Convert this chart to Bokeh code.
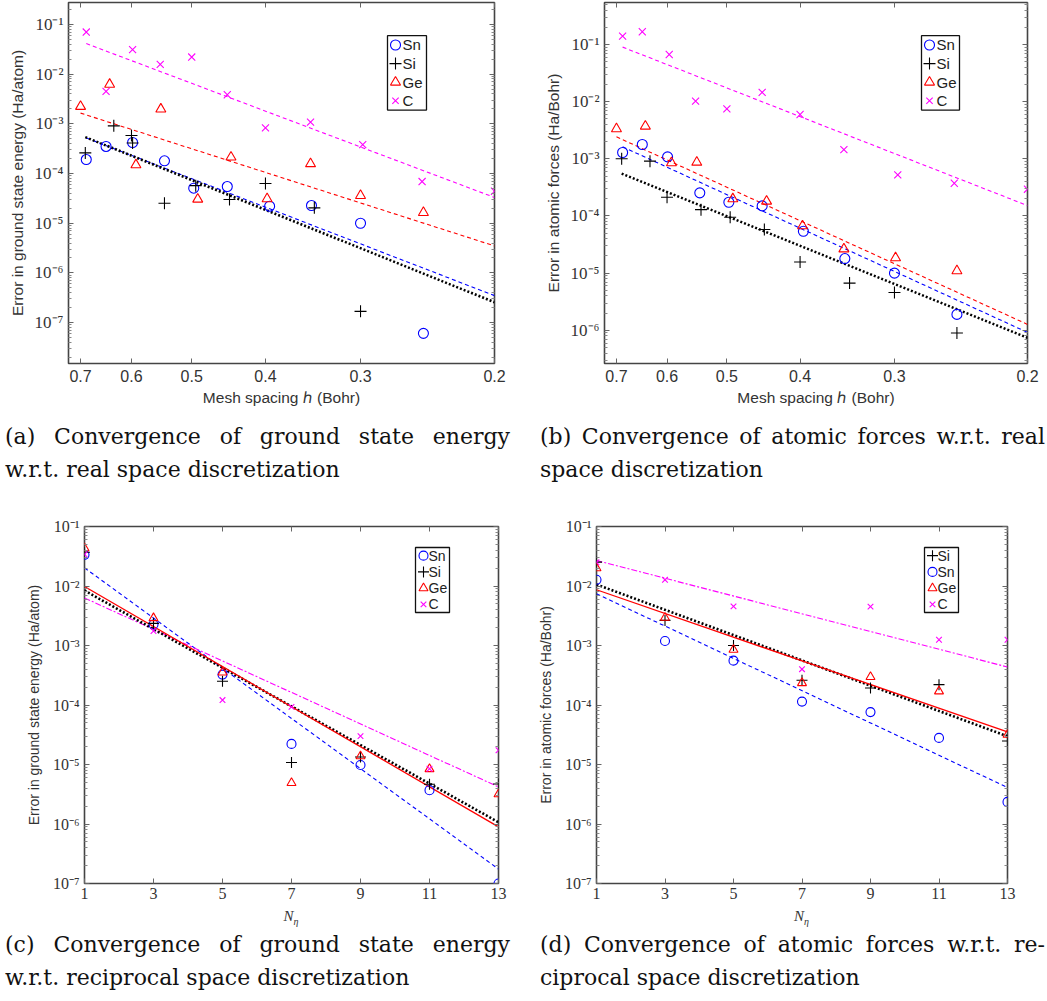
import math
from bokeh.plotting import figure
from bokeh.models import (Range1d, FixedTicker, CustomJSTickFormatter, LogAxis, LinearAxis, Div)
from bokeh.core.properties import value
from bokeh.layouts import column, row
from bokeh.embed import file_html
from bokeh.resources import INLINE

# ---------------- data ----------------
# (a) ground-state energy error vs mesh spacing h
a_h_Sn = [0.688, 0.648, 0.598, 0.543, 0.497, 0.449, 0.395, 0.348, 0.300, 0.248]
a_E_Sn = [1.91e-4, 3.5e-4, 4.2e-4, 1.8e-4, 5.07e-5, 5.47e-5, 2.2e-5, 2.27e-5, 1.0e-5, 6.1e-8]
a_h_Si = [0.690, 0.633, 0.600, 0.598, 0.543, 0.494, 0.446, 0.400, 0.345, 0.300]
a_E_Si = [2.6e-4, 9.1e-4, 5.8e-4, 4.1e-4, 2.53e-5, 5.7e-5, 3.0e-5, 6.3e-5, 2.04e-5, 1.69e-7]
a_h_Ge = [0.700, 0.641, 0.592, 0.549, 0.491, 0.444, 0.398, 0.349, 0.300, 0.248]
a_E_Ge = [2.23e-3, 6.2e-3, 1.49e-4, 1.97e-3, 3.04e-5, 2.13e-4, 3.1e-5, 1.57e-4, 3.6e-5, 1.64e-5]
a_h_C = [0.688, 0.648, 0.598, 0.550, 0.500, 0.449, 0.400, 0.349, 0.298, 0.249, 0.200]
a_E_C = [0.070, 4.48e-3, 0.031, 0.0157, 0.022, 3.84e-3, 8.3e-4, 1.08e-3, 3.8e-4, 6.9e-5, 4.4e-5]
a_fit_h_Sn, a_fit_E_Sn = [0.688, 0.2], [5.2e-4, 3.5e-7]
a_fit_h_Si, a_fit_E_Si = [0.690, 0.2], [5.4e-4, 2.57e-7]
a_fit_h_Ge, a_fit_E_Ge = [0.700, 0.2], [1.64e-3, 3.5e-6]
a_fit_h_C, a_fit_E_C = [0.688, 0.2], [0.041, 3.3e-5]

# (b) atomic-force error vs mesh spacing h
b_h_Sn = [0.687, 0.647, 0.599, 0.543, 0.497, 0.449, 0.396, 0.349, 0.300, 0.248]
b_F_Sn = [1.29e-3, 1.78e-3, 1.08e-3, 2.54e-4, 1.74e-4, 1.5e-4, 5.4e-5, 1.8e-5, 1.0e-5, 1.9e-6]
b_h_Si = [0.689, 0.632, 0.600, 0.541, 0.495, 0.446, 0.400, 0.344, 0.300, 0.248]
b_F_Si = [1.0e-3, 9.1e-4, 2.13e-4, 1.29e-4, 9.5e-5, 5.8e-5, 1.57e-5, 6.7e-6, 4.6e-6, 9.0e-7]
b_h_Ge = [0.700, 0.641, 0.592, 0.548, 0.491, 0.443, 0.397, 0.350, 0.299, 0.248]
b_F_Ge = [3.34e-3, 3.72e-3, 8.5e-4, 8.7e-4, 1.99e-4, 1.81e-4, 6.7e-5, 2.65e-5, 1.85e-5, 1.1e-5]
b_h_C = [0.687, 0.647, 0.596, 0.550, 0.500, 0.449, 0.400, 0.350, 0.297, 0.250, 0.200]
b_F_C = [0.140, 0.167, 0.0668, 0.0102, 7.48e-3, 0.0145, 5.96e-3, 1.45e-3, 5.24e-4, 3.74e-4, 2.94e-4]
b_fit_h_Sn, b_fit_F_Sn = [0.687, 0.2], [1.62e-3, 9.2e-7]
b_fit_h_Si, b_fit_F_Si = [0.689, 0.2], [5.5e-4, 7.4e-7]
b_fit_h_Ge, b_fit_F_Ge = [0.700, 0.2], [2.42e-3, 1.27e-6]
b_fit_h_C, b_fit_F_C = [0.687, 0.2], [0.0898, 1.52e-4]

# (c) ground-state energy error vs N_eta
N_eta = [1, 3, 5, 7, 9, 11, 13]
c_Sn = [0.0334, 2.26e-3, 3.24e-4, 2.22e-5, 9.8e-6, 3.7e-6, 1.0e-7]
c_Si = [0.037, 2.35e-3, 2.5e-4, 1.08e-5, 1.34e-5, 4.67e-6, 4.7e-6]
c_Ge = [0.0433, 2.89e-3, 3.54e-4, 4.9e-6, 1.38e-5, 8.4e-6, 3.17e-6]
c_C = [0.034, 1.75e-3, 1.21e-4, 9.3e-5, 3.0e-5, 8.5e-6, 1.74e-5]
fit_N = [1, 13]
c_fit_Sn = [0.0202, 1.75e-7]
c_fit_Si = [8.4e-3, 1.07e-6]
c_fit_Ge = [9.8e-3, 8.95e-7]
c_fit_C = [6.3e-3, 4.2e-6]

# (d) atomic-force error vs N_eta
d_Si = [0.0252, 2.64e-3, 1.0e-3, 2.6e-4, 1.93e-4, 2.2e-4, 2.49e-5]
d_Sn = [0.0127, 1.19e-3, 5.56e-4, 1.14e-4, 7.6e-5, 2.8e-5, 2.35e-6]
d_Ge = [0.0200, 2.93e-3, 8.5e-4, 2.34e-4, 2.96e-4, 1.7e-4, 3.18e-5]
d_C = [0.025, 0.0127, 4.54e-3, 4.0e-4, 4.5e-3, 1.25e-3, 1.25e-3]
d_fit_Si = [0.0106, 2.98e-5]
d_fit_Sn = [7.4e-3, 4.1e-6]
d_fit_Ge = [8.65e-3, 3.52e-5]
d_fit_C = [0.0268, 4.35e-4]

# tick values / labels
y_ticks = [1e-7, 1e-6, 1e-5, 1e-4, 1e-3, 1e-2, 1e-1]
y_tick_labels = ["10\u207b\u2077", "10\u207b\u2076", "10\u207b\u2075", "10\u207b\u2074",
                 "10\u207b\u00b3", "10\u207b\u00b2", "10\u207b\u00b9"]
h_ticks = [0.7, 0.6, 0.5, 0.4, 0.3, 0.2]
h_tick_labels = ["0.7", "0.6", "0.5", "0.4", "0.3", "0.2"]
n_ticks = [1, 3, 5, 7, 9, 11, 13]
n_tick_labels = ["1", "3", "5", "7", "9", "11", "13"]

legend_abc = ["Sn", "Si", "Ge", "C"]
legend_d = ["Si", "Sn", "Ge", "C"]

captions = [
    ("(a) Convergence of ground state energy", "w.r.t. real space discretization"),
    ("(b) Convergence of atomic forces w.r.t. real", "space discretization"),
    ("(c) Convergence of ground state energy", "w.r.t. reciprocal space discretization"),
    ("(d) Convergence of atomic forces w.r.t. re-", "ciprocal space discretization"),
]

# ---------------- styling helpers ----------------
BLUE, BLACK, RED, MAG = "#0000ff", "#000000", "#ff0000", "#ff00ff"
FRAME = "#444444"
SANS = "Liberation Sans"
SERIF = "Liberation Serif"
CAPFONT = "DejaVu Serif"

minor_y = [m * 10.0 ** e for e in range(-9, 1) for m in range(2, 10)]


def lab_formatter(tv, tl, log):
    code = """
    for (let i = 0; i < tv.length; i++) {
        const d = islog ? Math.abs(Math.log10(tv[i]) - Math.log10(tick)) : Math.abs(tv[i] - tick);
        if (d < 1e-6) return tl[i];
    }
    return '';
    """
    return CustomJSTickFormatter(args=dict(tv=tv, tl=tl, islog=log), code=code)


def blank():
    return CustomJSTickFormatter(code="return '';")


def make_fig(w, h, xlog, xr, yr, bl, br, bt, bb, xticks, xlabels, xfont, xsize, ysize):
    p = figure(width=w, height=h, x_axis_type="log" if xlog else "linear", y_axis_type="log",
               x_range=Range1d(*xr), y_range=Range1d(*yr), output_backend="svg",
               toolbar_location=None, min_border_left=bl, min_border_right=br,
               min_border_top=bt, min_border_bottom=bb, margin=0)
    p.grid.visible = False
    p.outline_line_color = FRAME
    p.outline_line_width = 1.6
    p.background_fill_color = "white"
    p.border_fill_color = "white"
    bx, ly = p.below[0], p.left[0]
    bx.ticker = FixedTicker(ticks=xticks, minor_ticks=[])
    bx.formatter = lab_formatter(xticks, xlabels, xlog)
    ly.ticker = FixedTicker(ticks=y_ticks, minor_ticks=minor_y)
    ly.formatter = lab_formatter(y_ticks, y_tick_labels, True)
    for ax in (bx, ly):
        ax.axis_line_color = None
        ax.major_tick_in = 5
        ax.major_tick_out = 0
        ax.minor_tick_in = 3
        ax.minor_tick_out = 0
        ax.major_tick_line_color = "#666666"
        ax.minor_tick_line_color = "#888888"
        ax.major_label_text_color = "#333333"
        ax.axis_label_text_color = "#333333"
        ax.axis_label_text_font_style = "normal"
    bx.major_label_text_font = xfont
    bx.major_label_text_font_size = xsize
    ly.major_label_text_font = SERIF
    ly.major_label_text_font_size = ysize
    bx.major_label_standoff = 6
    ly.major_label_standoff = 5
    # mirrored ticks on top / right
    top = LogAxis() if xlog else LinearAxis()
    top.ticker = FixedTicker(ticks=xticks, minor_ticks=[])
    right = LogAxis(ticker=FixedTicker(ticks=y_ticks, minor_ticks=minor_y))
    for ax in (top, right):
        ax.formatter = blank()
        ax.axis_line_color = None
        ax.major_tick_in = 5
        ax.major_tick_out = 0
        ax.minor_tick_in = 3
        ax.minor_tick_out = 0
        ax.major_label_standoff = 0
        ax.major_label_text_font_size = "1px"
        ax.major_tick_line_color = "#666666"
        ax.minor_tick_line_color = "#888888"
    p.add_layout(top, "above")
    p.add_layout(right, "right")
    return p, bx, ly


MARK = {
    "Sn": dict(marker="circle", line_color=BLUE, dsize=0),
    "Si": dict(marker="cross", line_color=BLACK, dsize=2),
    "Ge": dict(marker="triangle", line_color=RED, dsize=0),
    "C": dict(marker="x", line_color=MAG, dsize=-1),
}


def add_series(p, x, y, kind, size):
    s = MARK[kind]
    return p.scatter(x, y, marker=s["marker"], line_color=s["line_color"], size=size + s["dsize"],
                     fill_color=None, line_width=1.1)


def add_fit(p, x, y, kind, style):
    if kind == "Si":
        return p.line(x, y, line_color=BLACK, line_width=2.6, line_dash="2 2")
    col = {"Sn": BLUE, "Ge": RED, "C": MAG}[kind]
    if style == "dash":
        return p.line(x, y, line_color=col, line_width=1.1, line_dash="4 3")
    if style == "solid":
        return p.line(x, y, line_color=col, line_width=1.3)
    return p.line(x, y, line_color=col, line_width=1.1, line_dash="6 2 2 2")


def add_legend(p, xr, yr, xlog, W, H, L, T, w, h, names, fsize, msize, text_dx):
    """Boxed legend placed at pixel offsets (L, T) from the frame's top-left corner."""
    def X(px):
        f = px / W
        if xlog:
            return 10 ** (math.log10(xr[0]) + f * (math.log10(xr[1]) - math.log10(xr[0])))
        return xr[0] + f * (xr[1] - xr[0])

    def Y(py):
        f = 1 - py / H
        return 10 ** (math.log10(yr[0]) + f * (math.log10(yr[1]) - math.log10(yr[0])))

    p.quad(left=[X(L)], right=[X(L + w)], top=[Y(T)], bottom=[Y(T + h)],
           fill_color="white", line_color="#111111", line_width=1.3)
    rh = h / len(names)
    for i, n in enumerate(names):
        cy = Y(T + rh * (i + 0.5))
        add_series(p, [X(L + 8)], [cy], n, msize)
        p.text([X(L + text_dx)], [cy], text=[n], text_font=value(SANS), text_font_size=fsize,
               text_baseline="middle", text_align="left", text_color="#222222")


# ---------------- panel (a) ----------------
a_xr, a_yr = (0.726, 0.2), (1.51e-8, 0.275)
fa, fa_x, fa_y = make_fig(520, 410, True, a_xr, a_yr, 68, 26, 2, 47,
                          h_ticks, h_tick_labels, SANS, "16px", "17px")
fa_x.axis_label = "Mesh spacing \u210e (Bohr)"
fa_y.axis_label = "Error in ground state energy (Ha/atom)"
for ax in (fa_x, fa_y):
    ax.axis_label_text_font = SANS
    ax.axis_label_text_font_size = "15.5px"
fa_x.axis_label_standoff = 4
fa_y.axis_label_standoff = 6
add_fit(fa, a_fit_h_C, a_fit_E_C, "C", "dash")
add_fit(fa, a_fit_h_Ge, a_fit_E_Ge, "Ge", "dash")
add_fit(fa, a_fit_h_Sn, a_fit_E_Sn, "Sn", "dash")
add_fit(fa, a_fit_h_Si, a_fit_E_Si, "Si", "dot")
add_series(fa, a_h_Sn, a_E_Sn, "Sn", 10)
add_series(fa, a_h_Si, a_E_Si, "Si", 10)
add_series(fa, a_h_Ge, a_E_Ge, "Ge", 10)
add_series(fa, a_h_C, a_E_C, "C", 11)
add_legend(fa, a_xr, a_yr, True, 426, 359, 319, 33, 39, 74, legend_abc, "15px", 10, 15)

# ---------------- panel (b) ----------------
b_xr, b_yr = (0.726, 0.2), (2.63e-7, 0.542)
fb, fb_x, fb_y = make_fig(527, 410, True, b_xr, b_yr, 84, 20, 2, 47,
                          h_ticks, h_tick_labels, SANS, "16px", "17px")
fb_x.axis_label = "Mesh spacing \u210e (Bohr)"
fb_y.axis_label = "Error in atomic forces (Ha/Bohr)"
for ax in (fb_x, fb_y):
    ax.axis_label_text_font = SANS
    ax.axis_label_text_font_size = "15.5px"
fb_x.axis_label_standoff = 4
fb_y.axis_label_standoff = 6
add_fit(fb, b_fit_h_C, b_fit_F_C, "C", "dash")
add_fit(fb, b_fit_h_Ge, b_fit_F_Ge, "Ge", "dash")
add_fit(fb, b_fit_h_Sn, b_fit_F_Sn, "Sn", "dash")
add_fit(fb, b_fit_h_Si, b_fit_F_Si, "Si", "dot")
add_series(fb, b_h_Sn, b_F_Sn, "Sn", 10)
add_series(fb, b_h_Si, b_F_Si, "Si", 10)
add_series(fb, b_h_Ge, b_F_Ge, "Ge", 10)
add_series(fb, b_h_C, b_F_C, "C", 11)
add_legend(fb, b_xr, b_yr, True, 423, 359, 317, 33, 38, 74, legend_abc, "15px", 10, 15)

# ---------------- panel (c) ----------------
n_xr, n_yr = (1, 13), (1e-7, 1e-1)
fc, fc_x, fc_y = make_fig(520, 416, False, n_xr, n_yr, 84, 22, 36, 23,
                          n_ticks, n_tick_labels, SERIF, "16px", "16px")
fc_x.major_label_standoff = 4
fc_y.axis_label = "Error in ground state energy (Ha/atom)"
fc_y.axis_label_text_font = SANS
fc_y.axis_label_text_font_size = "14px"
fc_y.axis_label_standoff = 8
add_fit(fc, fit_N, c_fit_Sn, "Sn", "dash")
add_fit(fc, fit_N, c_fit_C, "C", "dashdot")
add_fit(fc, fit_N, c_fit_Si, "Si", "dot")
add_fit(fc, fit_N, c_fit_Ge, "Ge", "solid")
add_series(fc, N_eta, c_Sn, "Sn", 9)
add_series(fc, N_eta, c_Si, "Si", 9)
add_series(fc, N_eta, c_Ge, "Ge", 9)
add_series(fc, N_eta, c_C, "C", 9)
add_legend(fc, n_xr, n_yr, False, 414, 357, 331, 21, 34, 65, legend_abc, "14px", 9, 13)

# ---------------- panel (d) ----------------
fd, fd_x, fd_y = make_fig(527, 416, False, n_xr, n_yr, 76, 40, 36, 23,
                          n_ticks, n_tick_labels, SERIF, "16px", "16px")
fd_x.major_label_standoff = 4
fd_y.axis_label = "Error in atomic forces (Ha/Bohr)"
fd_y.axis_label_text_font = SANS
fd_y.axis_label_text_font_size = "14px"
fd_y.axis_label_standoff = 8
add_fit(fd, fit_N, d_fit_Sn, "Sn", "dash")
add_fit(fd, fit_N, d_fit_C, "C", "dashdot")
add_fit(fd, fit_N, d_fit_Si, "Si", "dot")
add_fit(fd, fit_N, d_fit_Ge, "Ge", "solid")
add_series(fd, N_eta, d_Si, "Si", 9)
add_series(fd, N_eta, d_Sn, "Sn", 9)
add_series(fd, N_eta, d_Ge, "Ge", 9)
add_series(fd, N_eta, d_C, "C", 9)
add_legend(fd, n_xr, n_yr, False, 411, 357, 328, 21, 34, 65, legend_d, "14px", 9, 13)


# N_eta axis labels (italic N with subscript eta) under the frames of (c) and (d)
def neta_label(width, frame_left, frame_w):
    html = (f'<div style="width:{frame_w}px;margin-left:{frame_left}px;text-align:center;'
            f'font-family:\'{SERIF}\',serif;font-size:15px;line-height:20px;color:#333;">'
            f'<i>N</i><sub style="font-size:10px;"><i>\u03b7</i></sub></div>')
    return Div(text=html, width=width, height=22, margin=0)


nl_c = neta_label(520, 84, 414)
nl_d = neta_label(527, 76, 411)


# ---------------- captions ----------------
def caption(lines, width, inner_w, pad_left, pad_top, height):
    l1, l2 = lines
    html = (f'<div style="font-family:\'{CAPFONT}\',serif;font-size:22px;line-height:33px;color:#111;'
            f'width:{inner_w}px;margin-left:{pad_left}px;padding-top:{pad_top}px;">'
            f'<div style="text-align:justify;text-align-last:justify;white-space:nowrap;">{l1}</div>'
            f'<div style="text-align:left;white-space:nowrap;">{l2}</div></div>')
    return Div(text=html, width=width, height=height, margin=0)


cap_a = caption(captions[0], 520, 505, 5, 10, 80)
cap_b = caption(captions[1], 527, 505, 20, 10, 80)
cap_c = caption(captions[2], 520, 505, 5, 0, 70)
cap_d = caption(captions[3], 527, 505, 20, 0, 70)

layout = column(row(fa, fb), row(cap_a, cap_b), row(fc, fd), row(nl_c, nl_d), row(cap_c, cap_d))

open("out.html", "w").write(file_html(layout, INLINE))
